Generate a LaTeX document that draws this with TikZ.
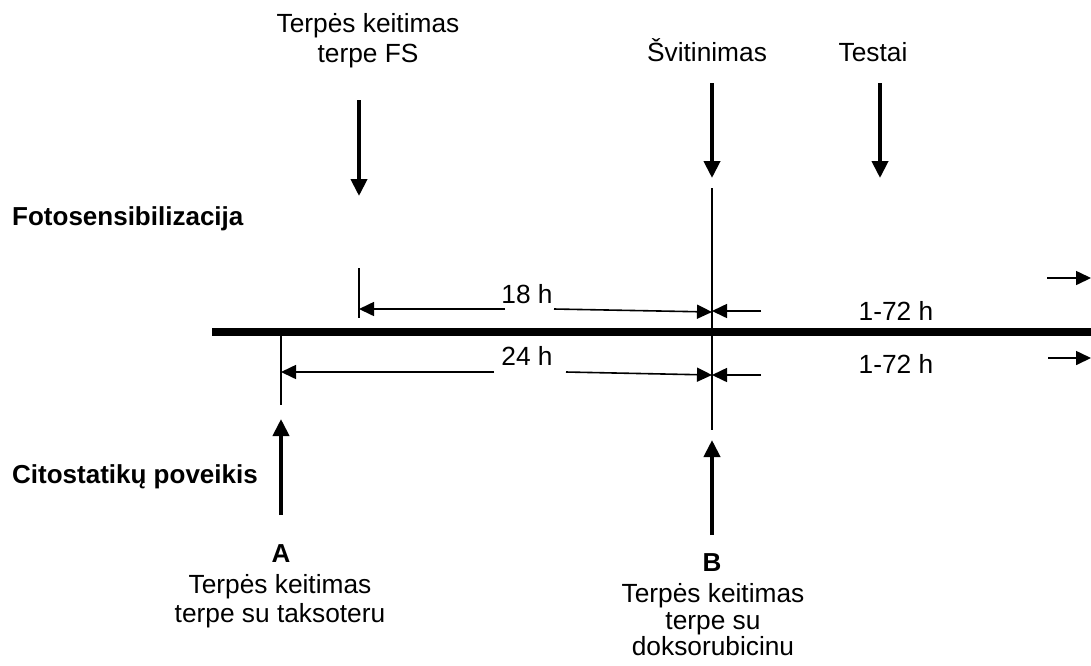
\documentclass[tikz,border=0pt]{standalone}
\usepackage{fontspec}
\setmainfont{Liberation Sans}
\usetikzlibrary{arrows.meta}
\begin{document}
\begin{tikzpicture}[x=1pt,y=-1pt,
  lbl/.style={inner sep=0pt, anchor=base, font=\fontsize{26.3}{30}\selectfont},
  blbl/.style={inner sep=0pt, anchor=base, font=\fontsize{26}{30}\selectfont\bfseries},
  bigarrow/.style={line width=4pt, -{Triangle[length=17pt,width=16pt]}},
  dimarrow/.style={line width=1.6pt, -{Triangle[length=15pt,width=14pt]}},
  thin/.style={line width=1.6pt},
  mainline/.style={line width=8pt}]
\useasboundingbox (0,0) rectangle (1091,665);
% main time line
\coordinate (m0) at (212,332);
\coordinate (m1) at (1091,332);
\draw[mainline] (m0) -- (m1);
% side labels
\node[blbl, anchor=base west] (foto) at (12,225) {Fotosensibilizacija};
\node[blbl, anchor=base west] (cito) at (12,483) {Citostatikų poveikis};
% top labels
\node[lbl] (fs1) at (368,32) {Terpės keitimas};
\node[lbl] (fs2) at (368,62) {terpe FS};
\node[lbl] (svit) at (707,61) {Švitinimas};
\node[lbl] (test) at (873,61) {Testai};
% top arrows
\coordinate (fsa0) at (359,100); \coordinate (fsa1) at (359,196);
\coordinate (sva0) at (712,83);  \coordinate (sva1) at (712,178);
\coordinate (tea0) at (880,83);  \coordinate (tea1) at (880,178);
\draw[bigarrow] (fsa0) -- (fsa1);
\draw[bigarrow] (sva0) -- (sva1);
\draw[bigarrow] (tea0) -- (tea1);
% vertical markers
\coordinate (v1a) at (359,268); \coordinate (v1b) at (359,318);
\draw[thin] (v1a) -- (v1b);
\coordinate (v2a) at (712,188); \coordinate (v2b) at (712,430);
\draw[thin] (v2a) -- (v2b);
\coordinate (v3a) at (281,336); \coordinate (v3b) at (281,405);
\draw[thin] (v3a) -- (v3b);
% 18 h
\node[lbl] (t18) at (527,303) {18 h};
\coordinate (a18l) at (505,309); \coordinate (a18r) at (554,309);
\coordinate (e18l) at (359,309); \coordinate (e18r) at (712,312);
\draw[dimarrow] (a18l) -- (e18l);
\draw[dimarrow] (a18r) -- (e18r);
% 24 h
\node[lbl] (t24) at (527,365) {24 h};
\coordinate (a24l) at (494,372); \coordinate (a24r) at (566,372);
\coordinate (e24l) at (281,372); \coordinate (e24r) at (712,375);
\draw[dimarrow] (a24l) -- (e24l);
\draw[dimarrow] (a24r) -- (e24r);
% 1-72 h
\coordinate (b1a) at (761,311); \coordinate (b1b) at (712,311);
\draw[dimarrow] (b1a) -- (b1b);
\coordinate (b2a) at (761,375); \coordinate (b2b) at (712,375);
\draw[dimarrow] (b2a) -- (b2b);
\node[lbl] (t172a) at (896,320) {1-72 h};
\node[lbl] (t172b) at (896,373) {1-72 h};
\coordinate (r1a) at (1047,278); \coordinate (r1b) at (1091,278);
\draw[dimarrow] (r1a) -- (r1b);
\coordinate (r2a) at (1048,358); \coordinate (r2b) at (1091,358);
\draw[dimarrow] (r2a) -- (r2b);
% bottom arrows
\coordinate (aa0) at (281,515); \coordinate (aa1) at (281,419);
\draw[bigarrow] (aa0) -- (aa1);
\coordinate (ba0) at (712,535); \coordinate (ba1) at (712,440);
\draw[bigarrow] (ba0) -- (ba1);
% bottom labels
\node[blbl] (lA) at (281,562) {A};
\node[lbl] (tA1) at (280,593) {Terpės keitimas};
\node[lbl] (tA2) at (280,622) {terpe su taksoteru};
\node[blbl] (lB) at (712,571) {B};
\node[lbl] (tB1) at (713,602) {Terpės keitimas};
\node[lbl] (tB2) at (713,629) {terpe su};
\node[lbl] (tB3) at (713,655) {doksorubicinu};
\end{tikzpicture}
\end{document}
